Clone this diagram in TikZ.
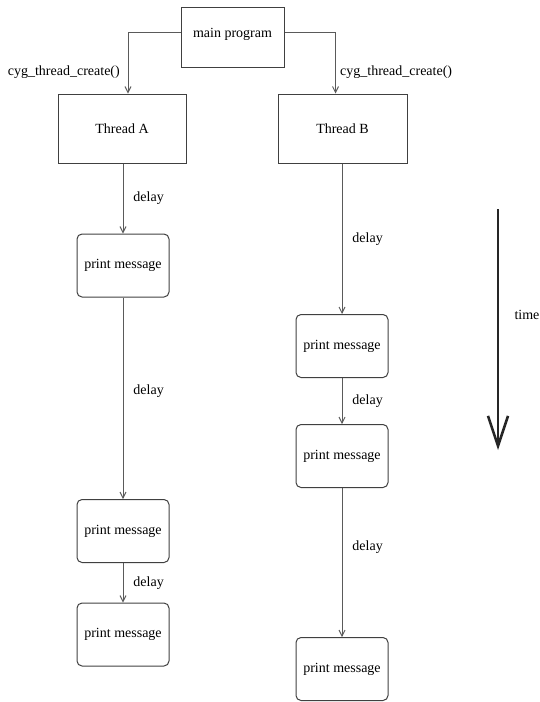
\documentclass[tikz,border=0pt]{standalone}
\usepackage{fontspec}
\setmainfont{Liberation Serif}
\usepackage{tikz}
\usetikzlibrary{positioning, arrows.meta}
\definecolor{thLine}{HTML}{5A5A5A}
\definecolor{thBox}{HTML}{404040}
\tikzset{
  threadbox/.style={
    rectangle, draw=thBox, line width=1pt,
    inner sep=0pt,
    minimum width=#1, minimum height=69pt,
    align=center,
    font=\fontsize{14}{16}\selectfont
  },
  msgbox/.style={
    rectangle, rounded corners=5pt,
    draw=thBox, line width=1pt,
    inner sep=0pt,
    minimum width=92pt, minimum height=63pt,
    align=center,
    font=\fontsize{14}{16}\selectfont
  },
  arrow/.style={
    -{Straight Barb[length=6pt, width=6pt]},
    thLine, line width=0.9pt
  },
  timearrow/.style={
    -{Straight Barb[length=30pt, width=20pt]},
    black!85, line width=2.6pt
  },
  lbl/.style={font=\fontsize{14}{16}\selectfont, text=black, inner sep=1pt}
}

\begin{document}
\begin{tikzpicture}[x=1pt, y=-1pt]
      \useasboundingbox (0,0) rectangle (540,702);
      % Main program
      \node[threadbox=103pt, minimum height=60pt, text depth=8pt] (main) at (232.5, 37) {main program};
      % Threads
      \node[threadbox=128pt] (threadA) at (122, 128.5) {Thread A};
      \node[threadbox=129pt] (threadB) at (342.5, 128.5) {Thread B};
      % Thread A messages
      \node[msgbox] (printA1) at (123, 265.5) {print message};
      \node[msgbox] (printA2) at (123, 531) {print message};
      \node[msgbox] (printA3) at (123, 634.5) {print message};
      % Thread B messages
      \node[msgbox] (printB1) at (342, 346) {print message};
      \node[msgbox] (printB2) at (342, 456) {print message};
      \node[msgbox] (printB3) at (342, 669) {print message};
      % Thread creation
      \draw[arrow] ([yshift=5pt]main.west) -| ([xshift=6pt]threadA.north);
      \draw[arrow] ([yshift=5pt]main.east) -| ([xshift=-7pt]threadB.north);
      \node[lbl, anchor=east] (createA) at (121, 72) {cyg\_thread\_create()};
      \node[lbl, anchor=west] (createB) at (339, 72) {cyg\_thread\_create()};
      % Delays, thread A
      \draw[arrow] (threadA.south -| printA1) -- node[lbl, right=9pt]{delay} (printA1.north);
      \draw[arrow] (printA1.south) -- node[lbl, right=9pt, yshift=7pt]{delay} (printA2.north);
      \draw[arrow] (printA2.south) -- node[lbl, right=9pt]{delay} (printA3.north);
      % Delays, thread B
      \draw[arrow] (threadB.south -| printB1) -- node[lbl, right=9pt]{delay} (printB1.north);
      \draw[arrow] (printB1.south) -- node[lbl, right=9pt]{delay} (printB2.north);
      \draw[arrow] (printB2.south) -- node[lbl, right=9pt, yshift=15pt]{delay} (printB3.north);
      % Time axis
      \coordinate (timeTop) at (498, 209);
      \coordinate (timeEnd) at (498, 450);
      \draw[timearrow] (timeTop) -- (timeEnd);
      \node[lbl] (timeLbl) at (527, 315) {time};
    \end{tikzpicture}
\end{document}
